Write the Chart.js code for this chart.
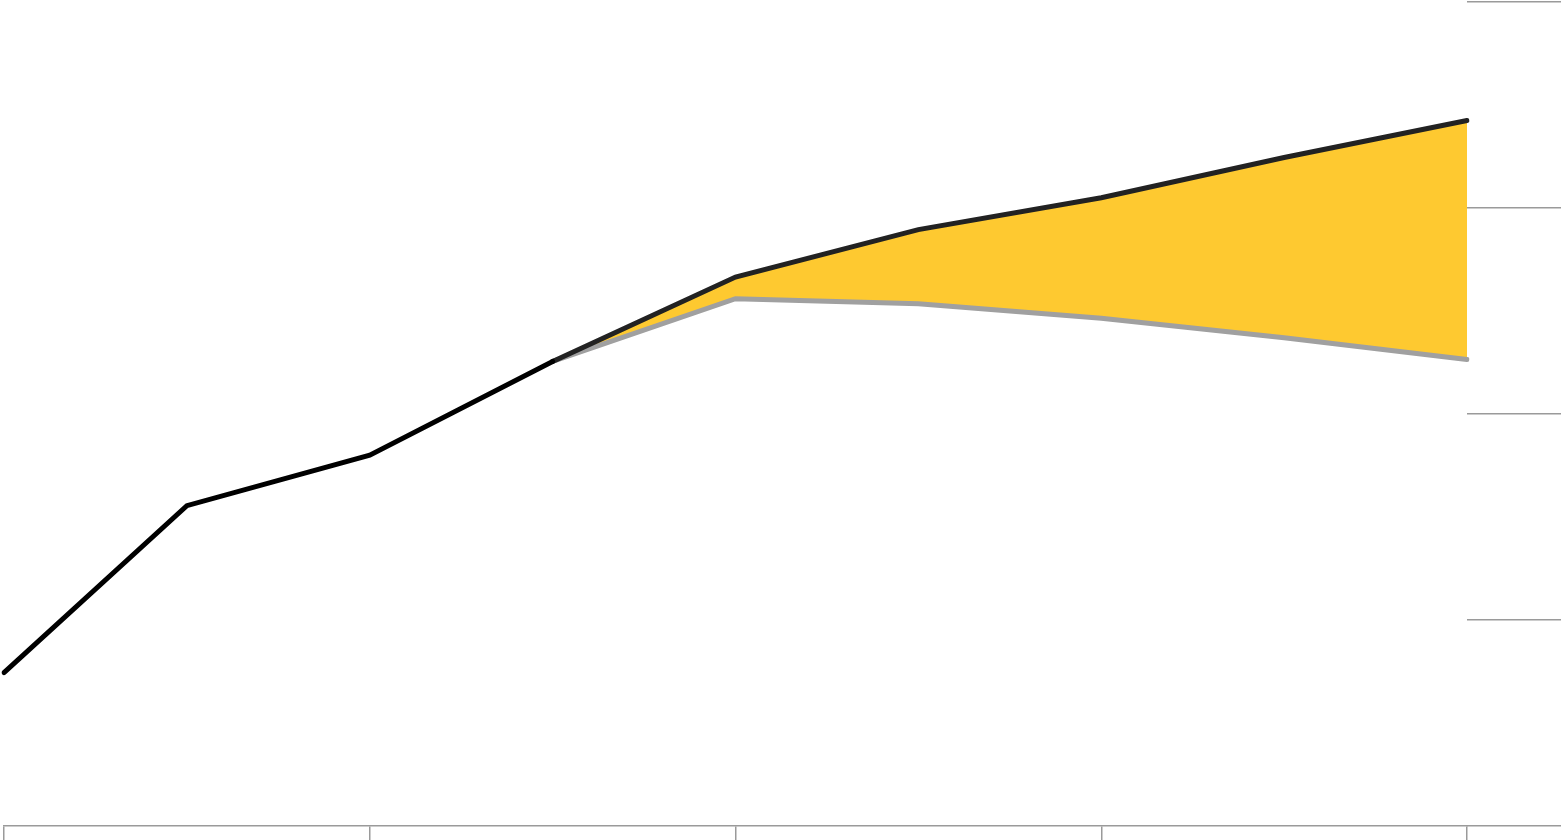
<!DOCTYPE html>
<html>
<head>
<meta charset="utf-8">
<script src="https://cdn.jsdelivr.net/npm/chart.js@4"></script>
<style>
    html, body { margin: 0; padding: 0; background: #fff; }
    #wrap { width: 1561px; height: 840px; position: relative; }
</style>
</head>
<body>
<div id="wrap"><canvas id="projChart"></canvas></div>
<script>
// categories (9 periods, ticks every other one)
const periods = ['p0', 'p1', 'p2', 'p3', 'p4', 'p5', 'p6', 'p7', 'p8'];
// observed values
const actual = [7.45, 15.55, 18.0, 22.55, null, null, null, null, null];
// projections from p3 onward
const projHigh = [null, null, null, 22.55, 26.65, 28.95, 30.5, 32.45, 34.25];
const projLow = [null, null, null, 22.55, 25.6, 25.35, 24.65, 23.7, 22.65];
const yTicks = [0, 10, 20, 30, 40];

const ctx = document.getElementById('projChart');

new Chart(ctx, {
    type: 'line',
    data: {
        labels: periods,
        datasets: [
            {
                label: 'Actual',
                data: actual,
                borderColor: '#000000',
                borderWidth: 5,
                borderCapStyle: 'round',
                pointRadius: 0,
                fill: false,
                order: 0
            },
            {
                label: 'High',
                data: projHigh,
                borderColor: '#222222',
                borderWidth: 5,
                borderCapStyle: 'round',
                pointRadius: 0,
                fill: { target: 2 },
                backgroundColor: '#fec930',
                order: 1
            },
            {
                label: 'Low',
                data: projLow,
                borderColor: '#a0a0a0',
                borderWidth: 5,
                borderCapStyle: 'round',
                pointRadius: 0,
                fill: false,
                order: 2
            }
        ]
    },
    options: {
        responsive: true,
        maintainAspectRatio: false,
        animation: false,
        layout: { padding: { left: 4, top: 2, right: 0, bottom: 0 } },
        plugins: {
            legend: { display: false },
            tooltip: { enabled: false },
            filler: { drawTime: 'beforeDatasetsDraw' }
        },
        scales: {
            x: {
                type: 'category',
                offset: false,
                ticks: { display: false },
                grid: {
                    drawOnChartArea: false,
                    drawTicks: true,
                    tickLength: 14,
                    lineWidth: 1.5,
                    color: (c) => (c.index % 2 === 0 ? '#9a9a9a' : 'rgba(0,0,0,0)')
                },
                border: { display: true, color: '#9a9a9a', width: 1.5 }
            },
            y: {
                position: 'right',
                min: yTicks[0],
                max: yTicks[yTicks.length - 1],
                afterBuildTicks: (axis) => { axis.ticks = yTicks.map(v => ({ value: v })); },
                ticks: { display: false },
                grid: {
                    drawOnChartArea: false,
                    drawTicks: true,
                    tickLength: 94,
                    lineWidth: 1.5,
                    color: '#9a9a9a'
                },
                border: { display: false }
            }
        }
    }
});
</script>
</body>
</html>
